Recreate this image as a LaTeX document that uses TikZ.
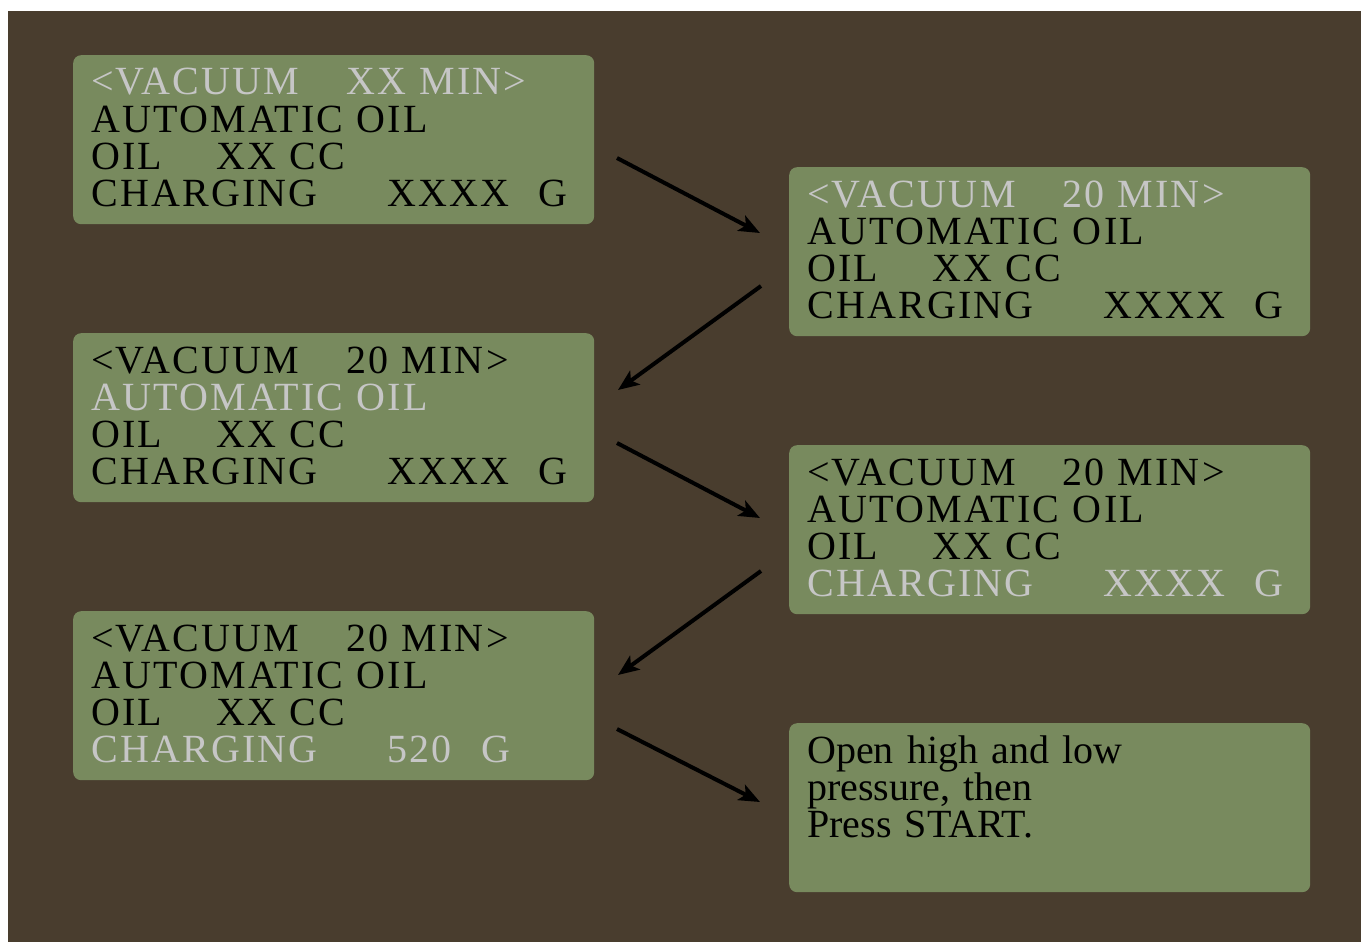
\documentclass[tikz,border=0pt]{standalone}
\usepackage{fontspec}
\setmainfont{Liberation Serif}
\newfontfamily\lcdfont[LetterSpace=5.5,WordSpace=1.8]{Liberation Serif}
\newfontfamily\msgfont{Liberation Serif}
\usetikzlibrary{arrows.meta,calc}
\definecolor{bgbrown}{RGB}{73,61,46}
\definecolor{lcdgreen}{RGB}{120,138,94}
\definecolor{lit}{RGB}{198,198,198}
\newcommand{\lcdsize}{\fontsize{40}{37.3}\selectfont\lineskiplimit=-100pt\relax}
\newcommand{\gapbox}[2]{\makebox[#1][l]{#2}}
\begin{document}
\begin{tikzpicture}[x=1pt,y=-1pt,
  lcdbox/.style={fill=lcdgreen,rounded corners=8pt,minimum width=521pt,minimum height=169pt,anchor=north west,inner sep=0pt},
  lcdtext/.style={anchor=base west,inner sep=0pt,align=left,text width=495pt,font=\lcdfont\lcdsize,text=black},
  msgtext/.style={lcdtext,font=\msgfont\lcdsize},
  flow/.style={line width=4pt,-{Stealth[length=21pt,width=17pt,inset=5pt]}}]
\useasboundingbox (0,0) rectangle (1361,942);
\fill[white] (0,0) rectangle (1361,942);
\fill[bgbrown] (8,11) rectangle (1361,942);

\node[lcdbox] (b1) at (73,55) {};
\node[lcdbox] (b2) at (789,167) {};
\node[lcdbox] (b3) at (73,333) {};
\node[lcdbox] (b4) at (789,445) {};
\node[lcdbox] (b5) at (73,611) {};
\node[lcdbox] (b6) at (789,723) {};

\node[lcdtext] (t1) at ($(b1.north west)+(18,40)$) {%
{\color{lit}\gapbox{255pt}{\textless VACUUM}XX MIN\textgreater}\\
AUTOMATIC OIL\\
\gapbox{125pt}{OIL}XX CC\\
\gapbox{296pt}{CHARGING}\gapbox{151pt}{XXXX}G};

\node[lcdtext] (t2) at ($(b2.north west)+(18,40)$) {%
{\color{lit}\gapbox{255pt}{\textless VACUUM}20 MIN\textgreater}\\
AUTOMATIC OIL\\
\gapbox{125pt}{OIL}XX CC\\
\gapbox{296pt}{CHARGING}\gapbox{151pt}{XXXX}G};

\node[lcdtext] (t3) at ($(b3.north west)+(18,40)$) {%
\gapbox{255pt}{\textless VACUUM}20 MIN\textgreater\\
{\color{lit}AUTOMATIC OIL}\\
\gapbox{125pt}{OIL}XX CC\\
\gapbox{296pt}{CHARGING}\gapbox{151pt}{XXXX}G};

\node[lcdtext] (t4) at ($(b4.north west)+(18,40)$) {%
\gapbox{255pt}{\textless VACUUM}20 MIN\textgreater\\
AUTOMATIC OIL\\
\gapbox{125pt}{OIL}XX CC\\
{\color{lit}\gapbox{296pt}{CHARGING}\gapbox{151pt}{XXXX}G}};

\node[lcdtext] (t5) at ($(b5.north west)+(18,40)$) {%
\gapbox{255pt}{\textless VACUUM}20 MIN\textgreater\\
AUTOMATIC OIL\\
\gapbox{125pt}{OIL}XX CC\\
{\color{lit}\gapbox{296pt}{CHARGING}\gapbox{94pt}{520}G}};

\node[msgtext] (t6) at ($(b6.north west)+(18,40)$) {%
Open high and low\\
pressure, then\\
Press START.};

\coordinate (a1s) at (617,158);
\coordinate (a1e) at (760,233);
\coordinate (a2s) at (761,286);
\coordinate (a2e) at (618,390);
\coordinate (a3s) at (617,443);
\coordinate (a3e) at (760,518);
\coordinate (a4s) at (761,571);
\coordinate (a4e) at (618,675);
\coordinate (a5s) at (617,729);
\coordinate (a5e) at (760,802);
\draw[flow] (a1s) -- (a1e);
\draw[flow] (a2s) -- (a2e);
\draw[flow] (a3s) -- (a3e);
\draw[flow] (a4s) -- (a4e);
\draw[flow] (a5s) -- (a5e);
\end{tikzpicture}
\end{document}
